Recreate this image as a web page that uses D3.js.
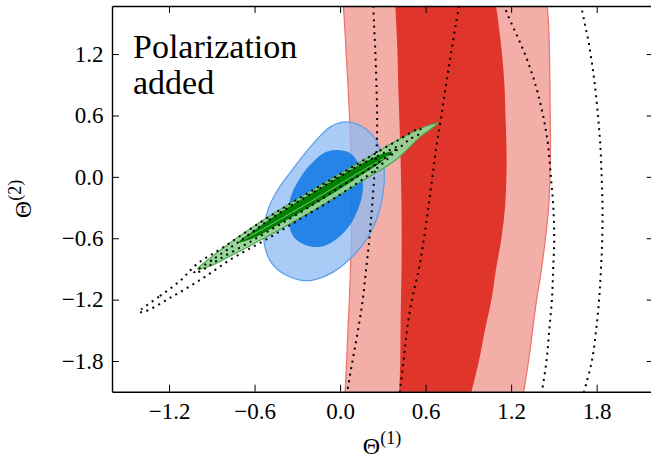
<!DOCTYPE html>
<html>
<head>
<meta charset="utf-8">
<script src="https://cdn.jsdelivr.net/npm/d3@7"></script>
<style>
  html, body { margin: 0; padding: 0; background: #fff; }
  svg { display: block; }
  svg text { font-family: "Liberation Serif", "DejaVu Serif", serif; }
</style>
</head>
<body>
<div id="chart"></div>
<script>
// ---------- data ----------
const xDomain = [-1.6, 2.2];
const yDomain = [-2.1, 1.67];

const xTicks = [-1.2, -0.6, 0.0, 0.6, 1.2, 1.8];
const xTickLabels = ["\u22121.2", "\u22120.6", "0.0", "0.6", "1.2", "1.8"];
const yTicks = [-1.8, -1.2, -0.6, 0.0, 0.6, 1.2];
const yTickLabels = ["\u22121.8", "\u22121.2", "\u22120.6", "0.0", "0.6", "1.2"];

const panelText = ["Polarization", "added"];
const xLabel = ["\u0398", "(1)"];
const yLabel = ["\u0398", "(2)"];

// red band (temperature-only constraint): edges sampled at these Θ(2) levels
const bandLevels = [1.8, 1.5, 1.2, 0.9, 0.6, 0.3, 0.0, -0.3, -0.6, -0.9, -1.2, -1.5, -1.8, -2.2];
const red2Left  = [0.017, 0.031, 0.043, 0.055, 0.066, 0.075, 0.081, 0.081, 0.080, 0.073, 0.065, 0.055, 0.046, 0.031];
const red2Right = [1.444, 1.462, 1.469, 1.472, 1.474, 1.476, 1.472, 1.463, 1.441, 1.413, 1.379, 1.350, 1.322, 1.276];
const red1Left  = [0.382, 0.394, 0.403, 0.408, 0.415, 0.422, 0.427, 0.431, 0.432, 0.431, 0.427, 0.424, 0.422, 0.413];
const red1Right = [1.080, 1.111, 1.136, 1.153, 1.160, 1.167, 1.167, 1.157, 1.132, 1.094, 1.062, 1.016, 0.974, 0.904];

// dotted open contours
const dotA = [0.229, 0.238, 0.248, 0.255, 0.260, 0.257, 0.240, 0.224, 0.206, 0.183, 0.159, 0.126, 0.087, 0.038];
const dotB = [0.852, 0.813, 0.778, 0.743, 0.711, 0.676, 0.648, 0.619, 0.589, 0.553, 0.504, 0.469, 0.445, 0.410];
const dotCLevels = [1.75, 1.65, 1.5, 1.35, 1.2, 1.05, 0.9, 0.75, 0.6, 0.45, 0.3, 0.0, -0.3, -0.6, -0.9, -1.2, -1.5, -1.8, -2.1, -2.2];
const dotC = [1.136, 1.157, 1.202, 1.251, 1.297, 1.336, 1.371, 1.399, 1.424, 1.444, 1.460, 1.479, 1.496, 1.502, 1.495, 1.486, 1.467, 1.448, 1.416, 1.406];
const dotDLevels = [1.75, 1.65, 1.5, 1.35, 1.2, 1.05, 0.9, 0.6, 0.3, 0.0, -0.3, -0.6, -0.9, -1.2, -1.5, -1.8, -2.1, -2.2];
const dotD = [1.678, 1.694, 1.716, 1.739, 1.757, 1.773, 1.787, 1.809, 1.826, 1.835, 1.841, 1.839, 1.830, 1.817, 1.796, 1.766, 1.711, 1.690];

// blue contours (closed)
const blueOuter = [
  [-0.001, 0.531], [0.083, 0.531], [0.182, 0.467], [0.259, 0.340], [0.304, 0.145], [0.308, -0.080],
  [0.273, -0.344], [0.196, -0.588], [0.083, -0.784], [-0.050, -0.931], [-0.190, -1.009], [-0.281, -1.009],
  [-0.394, -0.950], [-0.485, -0.833], [-0.530, -0.666], [-0.530, -0.471], [-0.499, -0.295], [-0.429, -0.109],
  [-0.337, 0.066], [-0.239, 0.242], [-0.141, 0.398], [-0.071, 0.486]
];
const blueInner = [
  [-0.022, 0.262], [0.069, 0.233], [0.133, 0.115], [0.161, -0.051], [0.147, -0.227], [0.083, -0.442],
  [-0.015, -0.598], [-0.127, -0.681], [-0.246, -0.666], [-0.330, -0.579], [-0.362, -0.393], [-0.344, -0.188],
  [-0.267, 0.018], [-0.176, 0.164], [-0.099, 0.242]
];

// green contours (closed)
const greenOuter = [
  [-1.000, -0.901], [-0.913, -0.795], [-0.773, -0.645], [-0.541, -0.425], [-0.302, -0.218], [-0.071, -0.028],
  [0.161, 0.162], [0.399, 0.355], [0.561, 0.470], [0.645, 0.514], [0.690, 0.527],
  [0.645, 0.478], [0.561, 0.390], [0.399, 0.175], [0.161, -0.035], [-0.071, -0.230], [-0.302, -0.420],
  [-0.541, -0.605], [-0.773, -0.776], [-0.913, -0.872]
];
const greenInner = [
  [-0.712, -0.640], [-0.597, -0.518], [-0.471, -0.393], [-0.120, -0.092], [0.118, 0.104], [0.280, 0.216],
  [0.368, 0.246], [0.294, 0.150], [0.118, -0.010], [-0.120, -0.220], [-0.471, -0.497], [-0.597, -0.592]
];
const greenInnerLine = [[-0.681, -0.615], [-0.471, -0.455], [-0.120, -0.170], [0.118, 0.030], [0.336, 0.205]];

// dotted closed contours around the green
const dotLoopOuter = [
  [-1.411, -1.321], [-1.264, -1.165], [-1.123, -1.018], [-1.004, -0.852], [-0.821, -0.690], [-0.541, -0.428],
  [-0.302, -0.222], [-0.071, -0.032], [0.161, 0.158], [0.399, 0.352], [0.561, 0.472],
  [0.561, 0.428], [0.490, 0.369], [0.399, 0.262], [0.294, 0.125], [0.161, -0.021], [0.048, -0.129],
  [-0.071, -0.237], [-0.281, -0.413], [-0.513, -0.608], [-0.751, -0.793], [-0.983, -1.009], [-1.194, -1.184],
  [-1.369, -1.316]
];
const dotLoopInner = [
  [-1.025, -0.940], [-0.877, -0.793], [-0.702, -0.627], [-0.471, -0.395], [-0.120, -0.095], [0.118, 0.100],
  [0.315, 0.240], [0.406, 0.295],
  [0.364, 0.233], [0.266, 0.140], [0.140, 0.020], [-0.001, -0.100], [-0.211, -0.290], [-0.422, -0.465],
  [-0.632, -0.637], [-0.842, -0.800], [-0.983, -0.925]
];

// ---------- drawing ----------
const W = 651, H = 461;
const FONT = '"Liberation Serif", "DejaVu Serif", serif';
const svg = d3.select("#chart").append("svg").attr("width", W).attr("height", H);
svg.append("rect").attr("width", W).attr("height", H).attr("fill", "#fff");

const x = d3.scaleLinear().domain(xDomain).range([112, 653.7]);
const y = d3.scaleLinear().domain(yDomain).range([391.7, 6]);

svg.append("clipPath").attr("id", "plotclip").append("rect")
  .attr("x", x(xDomain[0])).attr("y", y(yDomain[1]))
  .attr("width", x(xDomain[1]) - x(xDomain[0])).attr("height", y(yDomain[0]) - y(yDomain[1]));

const plot = svg.append("g").attr("clip-path", "url(#plotclip)");

const openLine = d3.line().x(d => x(d[0])).y(d => y(d[1])).curve(d3.curveCatmullRom.alpha(0.5));
const closedLine = d3.line().x(d => x(d[0])).y(d => y(d[1])).curve(d3.curveCatmullRomClosed.alpha(0.5));

function bandPath(leftXs, rightXs, levels) {
  const left = levels.map((l, i) => [leftXs[i], l]);
  const right = levels.map((l, i) => [rightXs[i], l]).reverse();
  return openLine(left) + openLine(right).replace(/^M/, "L") + "Z";
}

// red bands
plot.append("path").attr("d", bandPath(red2Left, red2Right, bandLevels))
  .attr("fill", "#f3aea7").attr("stroke", "#ec7266").attr("stroke-width", 1.2);
plot.append("path").attr("d", bandPath(red1Left, red1Right, bandLevels))
  .attr("fill", "#e0352a").attr("stroke", "none");

// blue ellipses
plot.append("path").attr("d", closedLine(blueOuter))
  .attr("fill", "rgb(140,186,243)").attr("fill-opacity", 0.75)
  .attr("stroke", "#5f9fe9").attr("stroke-width", 1.3);
plot.append("path").attr("d", closedLine(blueInner))
  .attr("fill", "rgb(2,114,229)").attr("fill-opacity", 0.8).attr("stroke", "none");

// green ellipses
plot.append("path").attr("d", closedLine(greenOuter))
  .attr("fill", "#95d395").attr("fill-opacity", 0.95)
  .attr("stroke", "#46a846").attr("stroke-width", 1.1);
plot.append("path").attr("d", closedLine(greenInner))
  .attr("fill", "#007f00").attr("stroke", "none");
plot.append("path").attr("d", openLine(greenInnerLine))
  .attr("fill", "none").attr("stroke", "#8fd08f").attr("stroke-width", 0.9);

// dotted contours
const dotStyle = sel => sel.attr("fill", "none").attr("stroke", "#000")
  .attr("stroke-width", 2).attr("stroke-dasharray", "2 4.6");

plot.append("path").attr("d", closedLine(dotLoopOuter)).call(dotStyle);
plot.append("path").attr("d", closedLine(dotLoopInner)).call(dotStyle);
plot.append("path").attr("d", openLine(bandLevels.map((l, i) => [dotA[i], l]))).call(dotStyle);
plot.append("path").attr("d", openLine(bandLevels.map((l, i) => [dotB[i], l]))).call(dotStyle);
plot.append("path").attr("d", openLine(dotCLevels.map((l, i) => [dotC[i], l]))).call(dotStyle);
plot.append("path").attr("d", openLine(dotDLevels.map((l, i) => [dotD[i], l]))).call(dotStyle);

// axes
function styleAxis(g) {
  g.attr("font-family", FONT).attr("font-size", 23);
  g.select(".domain").attr("stroke", "#000").attr("stroke-width", 1.4);
  g.selectAll(".tick line").attr("stroke", "#000").attr("stroke-width", 1);
  g.selectAll(".tick text").attr("fill", "#000").style("font-family", FONT).style("font-size", "23px");
}

svg.append("g").attr("transform", `translate(0,${y(yDomain[0])})`)
  .call(d3.axisBottom(x).tickValues(xTicks).tickFormat((d, i) => xTickLabels[i])
    .tickSizeInner(-7).tickSizeOuter(0).tickPadding(10.8))
  .call(styleAxis);
svg.append("g").attr("transform", `translate(0,${y(yDomain[1])})`)
  .call(d3.axisTop(x).tickValues(xTicks).tickFormat(() => "")
    .tickSizeInner(-7).tickSizeOuter(0))
  .call(styleAxis);
svg.append("g").attr("transform", `translate(${x(xDomain[0])},0)`)
  .call(d3.axisLeft(y).tickValues(yTicks).tickFormat((d, i) => yTickLabels[i])
    .tickSizeInner(-7).tickSizeOuter(0).tickPadding(8.5))
  .call(styleAxis);
svg.append("g").attr("transform", `translate(${x(xDomain[1])},0)`)
  .call(d3.axisRight(y).tickValues(yTicks).tickFormat(() => "")
    .tickSizeInner(-7).tickSizeOuter(0))
  .call(styleAxis);

// axis labels
const xl = svg.append("text").attr("x", 382).attr("y", 454)
  .attr("text-anchor", "middle").style("font-family", FONT).attr("fill", "#000");
xl.append("tspan").style("font-size", "24px").text(xLabel[0]);
xl.append("tspan").style("font-size", "18px").attr("dy", -10).text(xLabel[1]);

const yl = svg.append("text").attr("transform", "translate(31,199) rotate(-90)")
  .attr("text-anchor", "middle").style("font-family", FONT).attr("fill", "#000");
yl.append("tspan").style("font-size", "24px").text(yLabel[0]);
yl.append("tspan").style("font-size", "18px").attr("dy", -10).text(yLabel[1]);

// panel annotation
const ann = svg.append("text").style("font-family", FONT).style("font-size", "34px").attr("fill", "#000");
ann.append("tspan").attr("x", 133).attr("y", 58.3).text(panelText[0]);
ann.append("tspan").attr("x", 133).attr("y", 94.3).text(panelText[1]);
</script>
</body>
</html>
